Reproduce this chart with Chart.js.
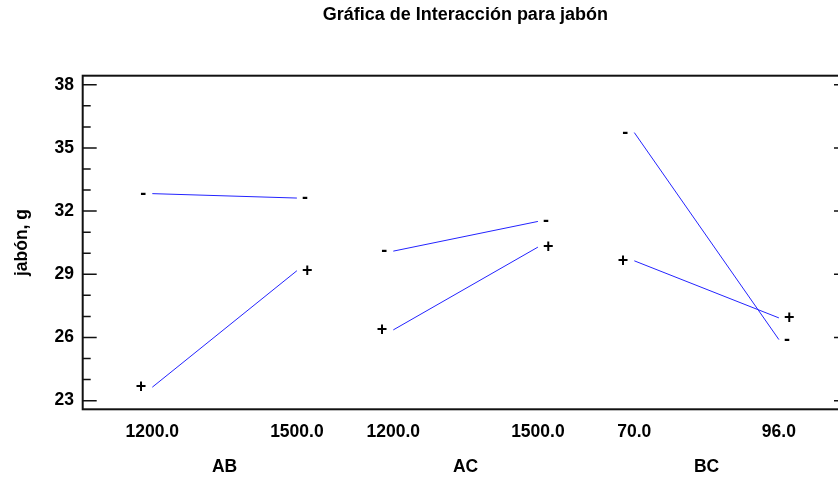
<!DOCTYPE html>
<html>
<head>
<meta charset="utf-8">
<script src="https://cdn.jsdelivr.net/npm/chart.js@4"></script>
<style>
  html, body { margin: 0; padding: 0; background: #fff; overflow: hidden; }
  #wrap { width: 850px; height: 477px; }
</style>
</head>
<body>
<div id="wrap"><canvas id="c" width="850" height="477"></canvas></div>
<script>
// Interaction means for jabón (g): each pair of factors, second factor at its low (-) and high (+) level
const groups = ['AB', 'AC', 'BC'];
const levelLabels = [['1200.0', '1500.0'], ['1200.0', '1500.0'], ['70.0', '96.0']];
const lowMeans  = [[32.83, 32.62], [30.10, 31.51], [35.73, 25.90]];
const highMeans = [[23.64, 29.17], [26.36, 30.29], [29.64, 26.93]];
const yTicks = [23, 26, 29, 32, 35, 38];

// Layout of the panels along the shared x axis
const SPAN = 0.6;                       // width of one panel in axis units
const xPos = (g, k) => g + k * SPAN;    // k = 0 low level, 1 high level
const xTickValues = [];
const xTickText = [];
groups.forEach((g, i) => {
  [0, 1].forEach(k => { xTickValues.push(xPos(i, k)); xTickText.push(levelLabels[i][k]); });
});
const groupCenters = groups.map((g, i) => i + SPAN / 2);

const FONT = "'Liberation Sans', Arial, Helvetica, sans-serif";
Chart.defaults.font.family = FONT;
Chart.defaults.color = '#000';

const datasets = [];
groups.forEach((g, i) => {
  [[lowMeans, '-'], [highMeans, '+']].forEach(([src, sign]) => {
    datasets.push({
      label: g + ' ' + sign,
      sign: sign,
      data: [0, 1].map(k => ({ x: xPos(i, k), y: src[i][k] })),
      showLine: true,
      borderColor: '#2323ff',
      borderWidth: 1,
      pointRadius: 0,
      fill: false
    });
  });
});

// Box around the plot, inward tick marks on both vertical sides and the +/- level markers
const framePlugin = {
  id: 'frameAndMarkers',
  afterDatasetsDraw(chart) {
    const { ctx, chartArea: a, scales } = chart;
    const y = scales.y;
    ctx.save();
    ctx.strokeStyle = '#111';
    ctx.lineWidth = 2;
    ctx.strokeRect(a.left, a.top, a.right - a.left, a.bottom - a.top);

    ctx.lineWidth = 1.5;
    const lo = Math.ceil(y.min), hi = Math.floor(y.max);
    for (let v = lo; v <= hi; v++) {
      const py = y.getPixelForValue(v);
      const len = yTicks.includes(v) ? 14 : 8;
      ctx.beginPath();
      ctx.moveTo(a.left, py); ctx.lineTo(a.left + len, py);
      ctx.moveTo(a.right, py); ctx.lineTo(a.right - len, py);
      ctx.stroke();
    }

    ctx.fillStyle = '#000';
    ctx.font = 'bold 18px ' + FONT;
    ctx.textBaseline = 'middle';
    chart.data.datasets.forEach((ds, di) => {
      const pts = chart.getDatasetMeta(di).data;
      ctx.textAlign = 'right';
      ctx.fillText(ds.sign, pts[0].x - 6, pts[0].y);
      ctx.textAlign = 'left';
      ctx.fillText(ds.sign, pts[1].x + 5, pts[1].y);
    });
    ctx.restore();
  }
};

const X_MIN = -0.2888, X_MAX = 2.8867;
const tickFont = { size: 17.5, weight: 'bold' };

new Chart(document.getElementById('c'), {
  type: 'scatter',
  data: { datasets },
  options: {
    responsive: false,
    animation: false,
    events: [],
    layout: { padding: { left: 0, right: 2, top: 0, bottom: 0 } },
    plugins: {
      legend: { display: false },
      tooltip: { enabled: false },
      title: { display: false }
    },
    scales: {
      // top axis carries the chart heading, centred over the plot box
      xt: {
        type: 'linear', axis: 'x', position: 'top',
        min: X_MIN, max: X_MAX,
        grid: { display: false, drawTicks: false },
        border: { display: false },
        ticks: { display: false },
        title: {
          display: true,
          text: 'Gráfica de Interacción para jabón',
          font: { size: 18, weight: 'bold' },
          color: '#000',
          padding: { top: 4, bottom: 0 }
        },
        afterFit: s => { s.height = 75.7; }
      },
      x: {
        type: 'linear', position: 'bottom', weight: 0,
        min: X_MIN, max: X_MAX,
        grid: { display: false, drawTicks: false },
        border: { display: false },
        afterBuildTicks: s => { s.ticks = xTickValues.map(v => ({ value: v })); },
        ticks: {
          autoSkip: false, maxRotation: 0, minRotation: 0, padding: 12.8,
          font: tickFont, color: '#000',
          callback: (v, i) => xTickText[i]
        },
        afterFit: s => { s.height = 33; }
      },
      xg: {
        type: 'linear', axis: 'x', position: 'bottom', weight: 1,
        min: X_MIN, max: X_MAX,
        grid: { display: false, drawTicks: false },
        border: { display: false },
        afterBuildTicks: s => { s.ticks = groupCenters.map(v => ({ value: v })); },
        ticks: {
          autoSkip: false, maxRotation: 0, minRotation: 0, padding: 14.2,
          font: tickFont, color: '#000',
          callback: (v, i) => groups[i]
        },
        afterFit: s => { s.height = 34.7; }
      },
      y: {
        type: 'linear', position: 'left',
        min: 22.59, max: 38.43,
        grid: { display: false, drawTicks: false },
        border: { display: false },
        afterBuildTicks: s => { s.ticks = yTicks.map(v => ({ value: v })); },
        ticks: { padding: 8.7, font: tickFont, color: '#000', callback: v => String(v) },
        title: {
          display: true, text: 'jabón, g',
          font: { size: 17.5, weight: 'bold' }, color: '#000',
          padding: { top: 11.5, bottom: 0 }
        },
        afterFit: s => { s.width = 82.7; }
      }
    }
  },
  plugins: [framePlugin]
});
</script>
</body>
</html>
